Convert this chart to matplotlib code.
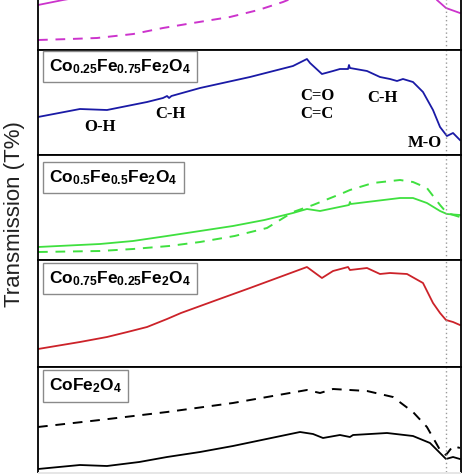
import matplotlib
matplotlib.use("Agg")
import matplotlib.pyplot as plt
from matplotlib.patches import Rectangle

plt.rcParams['mathtext.fontset'] = 'custom'
plt.rcParams['mathtext.rm'] = 'Liberation Sans'
plt.rcParams['mathtext.bf'] = 'Liberation Sans:bold'
plt.rcParams['mathtext.it'] = 'Liberation Sans:italic'

# ---------------- data (wavenumber cm^-1, transmission a.u.) ----------------
samples = ["", r"$\mathbf{Co_{0.25}Fe_{0.75}Fe_2O_4}$",
           r"$\mathbf{Co_{0.5}Fe_{0.5}Fe_2O_4}$",
           r"$\mathbf{Co_{0.75}Fe_{0.25}Fe_2O_4}$",
           r"$\mathbf{CoFe_2O_4}$"]

mag_w = [4000, 3790, 3500, 3000, 2400, 1743, 1617, 1239, 900, 710, 652, 576, 459]
mag_T = [45, 50, 56, 68, 82, 100, 92, 98, 95, 65, 50, 42, 37]
mag_dw = [4000, 3731, 3505, 3200, 2951, 2700, 2389, 2150, 1944, 1700, 1200, 900, 700, 576, 459]
mag_dT = [10, 11, 12, 16, 22, 27, 33, 40, 48, 60, 70, 65, 60, 58, 56]

blue_w = [4000, 3648, 3421, 3085, 2951, 2917, 2900, 2880, 2640, 2221, 1860, 1743,
          1717, 1617, 1524, 1466, 1398, 1390, 1382, 1239, 1130, 1046, 987, 937,
          853, 769, 685, 626, 568, 517, 459]
blue_T = [38, 46, 45, 53, 57, 59, 57, 59, 67, 78, 89, 96,
          92, 81, 84, 86, 86, 90, 87, 84, 78, 76, 74, 76,
          73, 63, 45, 28, 19, 22, 15]

green_w = [4000, 3480, 3203, 2917, 2640, 2364, 2100, 1860, 1743, 1633, 1390, 1382,
           1375, 1239, 962, 853, 736, 626, 568, 459]
green_T = [13, 16, 19, 24, 29, 34, 40, 47, 51, 49, 55, 58,
           56, 58, 62, 62, 57, 49, 46, 45]
green_dw = [4000, 3480, 3203, 2900, 2640, 2350, 2078, 1860, 1692, 1440, 1382, 1189,
            962, 853, 736, 626, 568, 459]
green_dT = [8, 9, 11, 14, 18, 24, 32, 48, 55, 67, 70, 77,
            80, 78, 72, 55, 47, 43]

red_w = [4000, 3648, 3421, 3250, 3085, 2917, 2800, 2500, 2221, 1743, 1617, 1524,
         1398, 1382, 1239, 1130, 1046, 903, 769, 685, 626, 576, 517, 459]
red_T = [18, 25, 30, 35, 40, 48, 54, 67, 79, 100, 89, 96,
         100, 97, 99, 93, 94, 93, 84, 64, 54, 47, 45, 42]

black_w = [4000, 3648, 3421, 3150, 2917, 2640, 2364, 1801, 1692, 1608, 1466,
           1382, 1356, 1071, 853, 710, 626, 576, 517, 459]
black_T = [3, 7, 6, 10, 15, 20, 26, 40, 38, 34, 37,
           35, 37, 39, 36, 29, 19, 13, 15, 13]
black_dw = [4000, 3480, 2917, 2364, 1743, 1633, 1524, 1239, 1021, 853, 736,
            626, 576, 517, 459]
black_dT = [45, 52, 60, 69, 82, 79, 83, 81, 75, 60, 45,
            22, 17, 26, 24]

bands = ["O-H", "C-H", "C=O", "C=C", "C-H", "M-O"]
band_w = [3480, 2892, 1659, 1659, 1113, 752]
band_T = [28, 41, 59, 41, 57, 12]

mo_line = 576

# ---------------- figure ----------------
W = H = 474
fig = plt.figure(figsize=(4.74, 4.74), dpi=100)
fig.patch.set_facecolor('white')

left_px, right_px = 38, 461
bounds = [(-55, 50), (50, 155), (155, 260), (260, 367), (367, 472)]

series = [
    [(mag_w, mag_T, '-', '#CC33CC'), (mag_dw, mag_dT, '--', '#CC33CC')],
    [(blue_w, blue_T, '-', '#1A1AA6')],
    [(green_w, green_T, '-', '#3FE03F'), (green_dw, green_dT, '--', '#3FE03F')],
    [(red_w, red_T, '-', '#CC2229')],
    [(black_w, black_T, '-', '#000000'), (black_dw, black_dT, '--', '#000000')],
]
box_y = [None, 0.845, 0.785, 0.825, 0.82]

axes = []
for i, (top, bot) in enumerate(bounds):
    ax = fig.add_axes([left_px / W, 1 - bot / H, (right_px - left_px) / W, (bot - top) / H])
    ax.set_xlim(4000, 450)
    ax.set_ylim(0, bot - top)
    for (x, y, ls, c) in series[i]:
        if ls == '--':
            ax.plot(x, y, ls=ls, color=c, lw=1.4, dashes=(5, 4))
        else:
            ax.plot(x, y, ls=ls, color=c, lw=1.3)
    ax.axvline(mo_line, color='#9a9a9a', ls=(0, (1, 2)), lw=1.0)
    ax.set_xticks([])
    ax.set_yticks([])
    for s in ax.spines.values():
        s.set_linewidth(1.3)
    if i == 4:
        ax.spines['bottom'].set_visible(False)
    if box_y[i] is not None:
        ax.text(0.026, box_y[i], samples[i], transform=ax.transAxes, fontsize=12.5,
                ha='left', va='center',
                bbox=dict(boxstyle='square,pad=0.36', fc='white', ec='#8a8a8a', lw=1.0))
    axes.append(ax)

for lab, x, y in zip(bands, band_w, band_T):
    axes[1].text(x, y, lab, family='Liberation Serif', fontweight='bold', fontsize=12,
                 ha='center', va='center')

fig.patches.append(Rectangle((left_px / W, 0), (right_px - left_px) / W, 2.3 / H,
                             transform=fig.transFigure, fc='#e6e6e6', ec='none', zorder=0))

fig.text(15 / W, 1 - 214 / H, 'Transmission (T%)', rotation=90, fontsize=16,
         family='Liberation Sans', ha='center', va='center', color='#222222')

fig.savefig('out.png', dpi=100)
